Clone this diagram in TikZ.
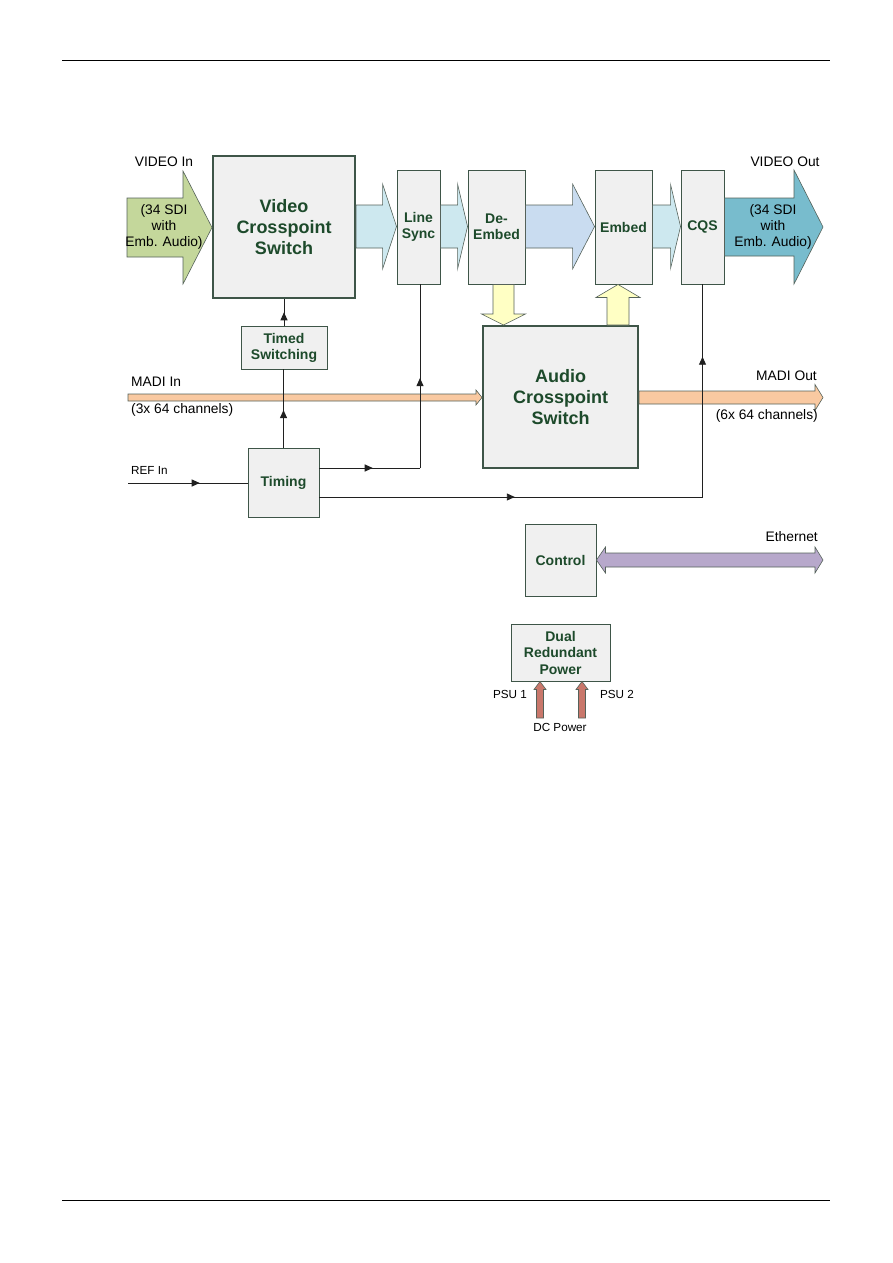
\documentclass[tikz,border=0pt]{standalone}
\usepackage{fontspec}
\setmainfont{Liberation Sans}
\usetikzlibrary{arrows.meta,decorations.markings,calc}
\definecolor{boxfill}{HTML}{F0F0F0}
\definecolor{boxline}{HTML}{3E5548}
\definecolor{txtg}{HTML}{1D4A2B}
\definecolor{arrline}{HTML}{55625A}
\definecolor{vingreen}{HTML}{C4D79B}
\definecolor{cyanl}{HTML}{CDE8EF}
\definecolor{bluel}{HTML}{C9DCF0}
\definecolor{voutc}{HTML}{78BCCD}
\definecolor{yell}{HTML}{FFFFC4}
\definecolor{madi}{HTML}{F9C9A1}
\definecolor{lav}{HTML}{B7A8CB}
\definecolor{psu}{HTML}{C9776B}
\definecolor{wirec}{HTML}{202020}
\newcommand\harrow[7]{%
 \path[#1] (#2 |- 0,#4-#5) -- ($(#3 |- 0,#4-#5)+(#7,0)$) -- ($(#3 |- 0,#4-#6)+(#7,0)$) -- (#3 |- 0,#4) -- ($(#3 |- 0,#4+#6)+(#7,0)$) -- ($(#3 |- 0,#4+#5)+(#7,0)$) -- (#2 |- 0,#4+#5) -- cycle;}
\newcommand\varrow[7]{%
 \path[#1] (#4-#5,0 |- #2) -- ($(#4-#5,0 |- #3)+(0,#7)$) -- ($(#4-#6,0 |- #3)+(0,#7)$) -- (#4,0 |- #3) -- ($(#4+#6,0 |- #3)+(0,#7)$) -- ($(#4+#5,0 |- #3)+(0,#7)$) -- (#4+#5,0 |- #2) -- cycle;}
\begin{document}
\begin{tikzpicture}[x=1pt,y=-1pt,
 box/.style={draw=boxline,fill=boxfill,line width=0.9pt,text=txtg,font=\fontsize{14}{16}\selectfont\bfseries,align=center,inner sep=0pt},
 bigbox/.style={box,line width=2pt,font=\fontsize{18}{21}\selectfont\bfseries},
 lbl/.style={font=\fontsize{13.8}{16}\selectfont,inner sep=0pt,align=center},
 small/.style={font=\fontsize{11.7}{14}\selectfont,inner sep=0pt},
 wire/.style={line width=0.9pt,draw=wirec},
 marr/.style={postaction={decorate},decoration={markings,mark=at position #1 with {\arrow{Triangle[length=8pt,width=7pt]}}}},
 blk/.style={draw=arrline,line width=0.6pt,fill=#1},
]
\useasboundingbox (0,0) rectangle (893,1263);
\draw[line width=0.8pt] (62,60) -- (830,60);
\draw[line width=0.8pt] (62,1200) -- (830,1200);

% coordinates for free ends
\coordinate (vin) at (127,227.5);
\coordinate (vout) at (823,227);
\coordinate (min) at (128,397.5);
\coordinate (mout) at (823,397.5);
\coordinate (ref) at (128,483);
\coordinate (eth) at (823,560);
\coordinate (p1) at (540,718);
\coordinate (p2) at (582,718);

% boxes
\node[bigbox,minimum width=142,minimum height=142] (vcs) at (284,227) {Video\\Crosspoint\\Switch};
\node[box,minimum width=43,minimum height=114] (ls) at (418.5,227) {Line\\Sync};
\node[box,minimum width=57,minimum height=114] (de) at (496.5,227) {De-\\Embed};
\node[box,minimum width=57,minimum height=114] (em) at (623.5,227) {Embed};
\node[box,minimum width=43,minimum height=114] (cqs) at (702.5,227) {CQS};
\node[bigbox,minimum width=155,minimum height=142] (acs) at (560.5,397) {Audio\\Crosspoint\\Switch};
\node[box,minimum width=86,minimum height=43] (ts) at (284,347.5) {Timed\\Switching};
\node[box,minimum width=71,minimum height=69] (tim) at (283.5,482.5) {Timing};
\node[box,minimum width=71,minimum height=72] (ctl) at (560.5,560) {Control};
\node[box,minimum width=99,minimum height=57,font=\fontsize{14}{16.5}\selectfont\bfseries] (pwr) at (560.5,652.5) {Dual\\Redundant\\Power};

% block arrows (video path)
\harrow{blk=vingreen}{vin}{vcs.west}{227.5}{29.5}{56.5}{-29}
\harrow{blk=cyanl}{vcs.east}{ls.west}{226.5}{21.5}{42.5}{-14}
\harrow{blk=cyanl}{ls.east}{de.west}{226.5}{21.5}{42.5}{-10}
\harrow{blk=bluel}{de.east}{em.west}{226.5}{21.5}{42.5}{-22}
\harrow{blk=cyanl}{em.east}{cqs.west}{226.5}{21.5}{42}{-10}
\harrow{blk=voutc}{cqs.east}{vout}{227}{29}{57}{-29}

% audio
\varrow{blk=yell}{de.south}{acs.north}{503.5}{10.5}{22}{-11}
\varrow{blk=yell}{acs.north}{em.south}{618}{11}{22}{13}
\harrow{blk=madi}{min}{acs.west}{397.5}{3.5}{7.5}{-6}
\harrow{blk=madi}{acs.east}{mout}{397.5}{6.5}{13}{-8}

% ethernet
\path[blk=lav] (ctl.east) -- ($(ctl.east)+(9,-13)$) -- ($(ctl.east)+(9,-7)$) -- ($(eth)+(-8,-7)$) -- ($(eth)+(-8,-13)$) -- (eth) -- ($(eth)+(-8,13)$) -- ($(eth)+(-8,7)$) -- ($(ctl.east)+(9,7)$) -- ($(ctl.east)+(9,13)$) -- cycle;

% power
\varrow{blk=psu}{p1}{pwr.south}{540}{3.5}{6}{8}
\varrow{blk=psu}{p2}{pwr.south}{582}{3.5}{6}{8}

% wires
\draw[wire,marr=0.5] (ts.north) -- (vcs.south);
\draw[wire,marr=0.48] (tim.north) -- (tim.north |- ts.south);
\draw[wire,marr=0.6] (ref) -- (tim.west |- ref);
\draw[wire,marr=0.53] (tim.east |- 0,468) -- (420,468);
\draw[wire,marr=0.49] (420,468) -- (420,0 |- ls.south);
\draw[wire,marr=0.51] (tim.east |- 0,497) -- (cqs.south |- 0,497);
\draw[wire,marr=0.66] (cqs.south |- 0,497) -- (cqs.south);

% labels
\node[lbl] (lvin) at (164,162) {VIDEO In};
\node[lbl] (lvout) at (785,162) {VIDEO Out};
\node[lbl] (tvin) at (164,227) {(34 SDI\\with\\Emb. Audio)};
\node[lbl] (tvout) at (773,227) {(34 SDI\\with\\Emb. Audio)};
\node[lbl,anchor=west] (lmin) at (131,382) {MADI In};
\node[lbl,anchor=west] (lmin2) at (131,410) {(3x 64 channels)};
\node[lbl,anchor=east] (lmout) at (817,376) {MADI Out};
\node[lbl,anchor=east] (lmout2) at (818,416) {(6x 64 channels)};
\node[small,anchor=west] (lref) at (131,470) {REF In};
\node[lbl,anchor=east] (leth) at (818,537) {Ethernet};
\node[small] (lp1) at (510,694) {PSU 1};
\node[small] (lp2) at (617,694) {PSU 2};
\node[small] (ldc) at (560,727) {DC Power};
\end{tikzpicture}
\end{document}
